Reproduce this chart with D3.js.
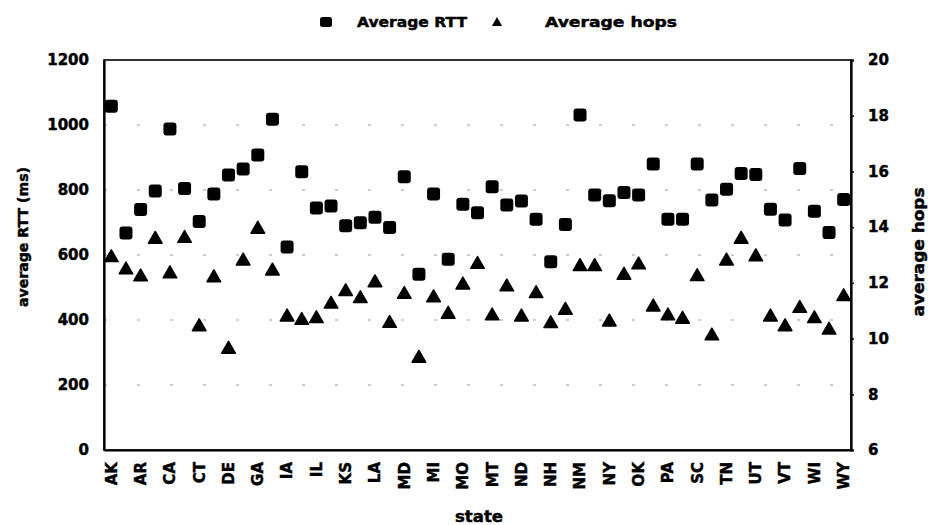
<!DOCTYPE html>
<html>
<head>
<meta charset="utf-8">
<script src="https://cdn.jsdelivr.net/npm/d3@7"></script>
<style>
  html, body { margin: 0; padding: 0; background: #fff; }
  svg { display: block; }
  text { font-family: "DejaVu Sans", "Liberation Sans", Arial, sans-serif; font-weight: bold; fill: #000;
         stroke: #000; stroke-width: 0.45px; }
</style>
</head>
<body>
<svg id="chart" width="928" height="525"></svg>
<script>
// States (incl. DC), alphabetical by postal code
const states = ["AK","AL","AR","AZ","CA","CO","CT","DC","DE","FL","GA","HI","IA","ID","IL","IN","KS","KY","LA","MA",
  "MD","ME","MI","MN","MO","MS","MT","NC","ND","NE","NH","NJ","NM","NV","NY","OH","OK","OR","PA","RI",
  "SC","SD","TN","TX","UT","VA","VT","WA","WI","WV","WY"];

// Average round-trip time per state (ms)
const avgRTT = [1058,668,740,797,988,805,703,788,846,865,908,1018,625,856,745,751,690,699,716,685,
  841,541,788,587,756,730,810,754,766,710,579,694,1031,785,767,792,785,880,710,710,
  880,769,802,851,848,741,708,866,735,669,771];

// Average hop count per state
const avgHops = [12.94,12.50,12.25,13.60,12.36,13.63,10.46,12.22,9.65,12.82,13.96,12.46,10.81,10.69,10.75,11.27,11.72,11.47,12.04,10.58,
  11.62,9.33,11.50,10.91,11.96,12.70,10.85,11.89,10.81,11.65,10.57,11.05,12.62,12.62,10.63,12.31,12.68,11.17,10.85,10.73,
  12.26,10.13,12.82,13.60,12.97,10.81,10.46,11.12,10.75,10.34,11.54];

const rttTicks = [0,200,400,600,800,1000,1200];
const hopTicks = [6,8,10,12,14,16,18,20];
const seriesNames = ["Average RTT", "Average hops"];

const svg = d3.select("#chart");
const m = { left: 104, right: 851, top: 60, bottom: 450 };

const x = d3.scaleBand().domain(states).range([m.left, m.right]);
const yL = d3.scaleLinear().domain([0, 1200]).range([m.bottom, m.top]);
const yR = d3.scaleLinear().domain([6, 20]).range([m.bottom, m.top]);
const cx = d => x(d) + x.bandwidth() / 2;

// Sparse dotted gridlines
svg.append("g").selectAll("line")
  .data(rttTicks.filter(t => t > 0 && t < 1200))
  .join("line")
  .attr("x1", m.left).attr("x2", m.right)
  .attr("y1", d => yL(d)).attr("y2", d => yL(d))
  .attr("stroke", "#999").attr("stroke-width", 1.1)
  .attr("stroke-dasharray", "3,30");

// Plot frame
svg.append("rect")
  .attr("x", m.left).attr("y", m.top)
  .attr("width", m.right - m.left).attr("height", m.bottom - m.top)
  .attr("fill", "none").attr("stroke", "#000").attr("stroke-width", 1.6);

// Left axis
const leftAxis = svg.append("g").attr("transform", `translate(${m.left},0)`)
  .call(d3.axisLeft(yL).tickValues(rttTicks).tickFormat(d3.format("d")).tickSize(0).tickPadding(15));
leftAxis.select(".domain").attr("stroke-width", 2.2);
leftAxis.selectAll("text").style("font-size", "15px");

// Right axis
const rightAxis = svg.append("g").attr("transform", `translate(${m.right},0)`)
  .call(d3.axisRight(yR).tickValues(hopTicks).tickFormat(d3.format("d")).tickSize(3).tickPadding(14));
rightAxis.select(".domain").attr("stroke-width", 2.2);
rightAxis.selectAll("line").attr("stroke-width", 1.5);
rightAxis.selectAll("text").style("font-size", "15px");

// Bottom axis with every other state labelled
const bottomAxis = svg.append("g").attr("transform", `translate(0,${m.bottom})`)
  .call(d3.axisBottom(x).tickSize(0)
    .tickFormat((d, i) => i % 2 === 0 ? d : ""));
bottomAxis.select(".domain").attr("stroke-width", 2.2);
bottomAxis.selectAll("text")
  .style("font-size", "15px")
  .attr("transform", "rotate(-90)")
  .attr("text-anchor", "end")
  .attr("x", -12).attr("y", 0).attr("dy", "0.36em");

// RTT markers (squares)
const sq = 13;
svg.append("g").selectAll("rect")
  .data(states.map((s, i) => ({ s, v: avgRTT[i] })))
  .join("rect")
  .attr("x", d => cx(d.s) - sq / 2)
  .attr("y", d => yL(d.v) - sq / 2)
  .attr("width", sq).attr("height", sq)
  .attr("rx", 3)
  .attr("fill", "#000");

// Hop markers (triangles)
const tri = d3.symbol().type(d3.symbolTriangle).size(80);
svg.append("g").selectAll("path")
  .data(states.map((s, i) => ({ s, v: avgHops[i] })))
  .join("path")
  .attr("d", tri)
  .attr("transform", d => `translate(${cx(d.s)},${yR(d.v) + 1})`)
  .attr("fill", "#000")
  .attr("stroke", "#000").attr("stroke-width", 1.5).attr("stroke-linejoin", "round");

// Axis titles
svg.append("text")
  .attr("transform", "translate(28,237) rotate(-90)")
  .attr("text-anchor", "middle").style("font-size", "14px")
  .attr("textLength", 140).attr("lengthAdjust", "spacingAndGlyphs")
  .text("average RTT (ms)");
svg.append("text")
  .attr("transform", "translate(924,252) rotate(-90)")
  .attr("text-anchor", "middle").style("font-size", "15px")
  .attr("textLength", 129).attr("lengthAdjust", "spacingAndGlyphs")
  .text("average hops");
svg.append("text")
  .attr("x", 479).attr("y", 522)
  .attr("text-anchor", "middle").style("font-size", "15px")
  .attr("textLength", 48).attr("lengthAdjust", "spacingAndGlyphs")
  .text("state");

// Legend
const legend = svg.append("g");
legend.append("rect").attr("x", 320).attr("y", 17).attr("width", 12).attr("height", 10).attr("rx", 2.5).attr("fill", "#000");
legend.append("text").attr("x", 357).attr("y", 27).style("font-size", "14px")
  .attr("textLength", 110).attr("lengthAdjust", "spacingAndGlyphs").text(seriesNames[0]);
legend.append("path").attr("d", d3.symbol().type(d3.symbolTriangle).size(45))
  .attr("transform", "translate(497,23)").attr("fill", "#000");
legend.append("text").attr("x", 545).attr("y", 27).style("font-size", "14px")
  .attr("textLength", 132).attr("lengthAdjust", "spacingAndGlyphs").text(seriesNames[1]);
</script>
</body>
</html>
